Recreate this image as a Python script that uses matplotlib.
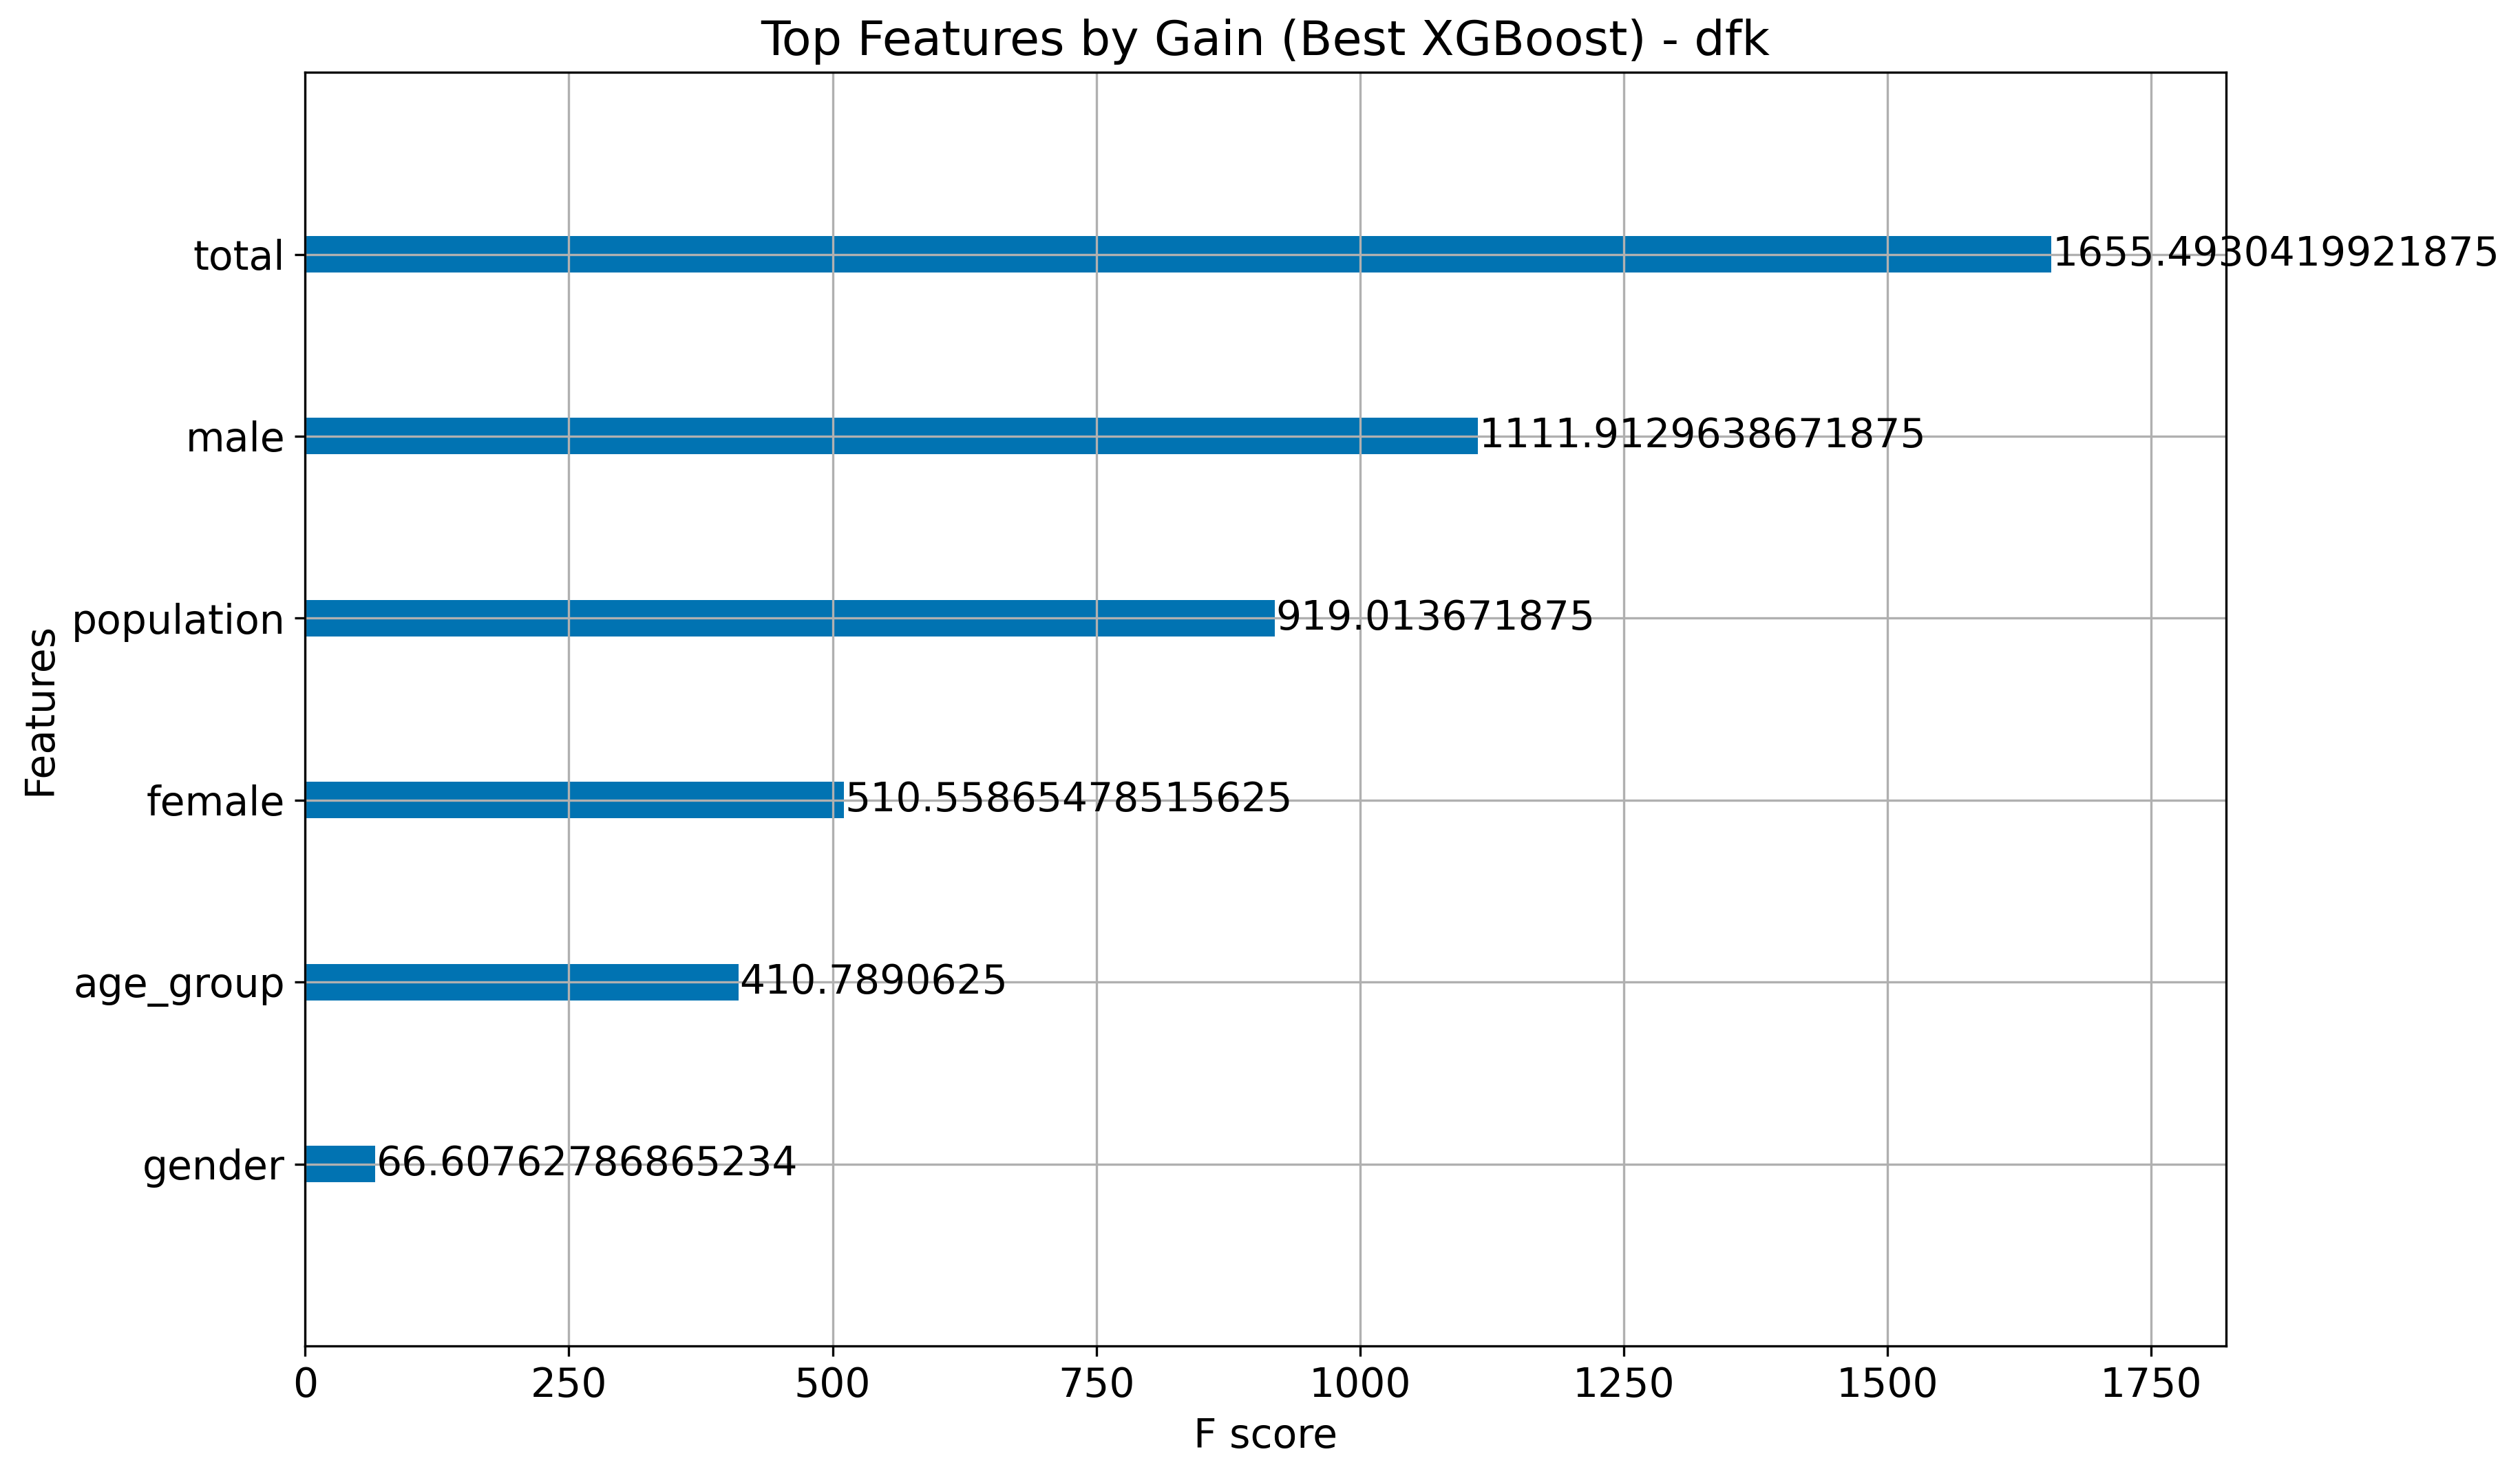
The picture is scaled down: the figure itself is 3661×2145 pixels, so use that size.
import matplotlib
matplotlib.use("Agg")
import matplotlib.pyplot as plt

features = ["gender", "age_group", "female", "population", "male", "total"]
gains = [66.60762786865234, 410.7890625, 510.55865478515625, 919.013671875,
         1111.9129638671875, 1655.4930419921875]

plt.rcParams["font.size"] = 14

fig = plt.figure(figsize=(3661 / 300, 2145 / 300), dpi=300)
ax = fig.add_axes([0.1211, 0.0881, 0.8834 - 0.1211, 0.951 - 0.0881])

ylocs = list(range(len(features)))
ax.barh(ylocs, gains, align="center", height=0.2, color="#0173B2")
for x, y in zip(gains, ylocs):
    ax.text(x + 1, y, str(x), va="center")

ax.set_yticks(ylocs)
ax.set_yticklabels(features)
ax.set_xlim(0, max(gains) * 1.1)
ax.set_ylim(-1, len(features))
ax.set_title("Top Features by Gain (Best XGBoost) - dfk", fontsize="large")
ax.set_xlabel("F score")
ax.set_ylabel("Features")
ax.grid(True)

fig.savefig("out.png", dpi=300)
